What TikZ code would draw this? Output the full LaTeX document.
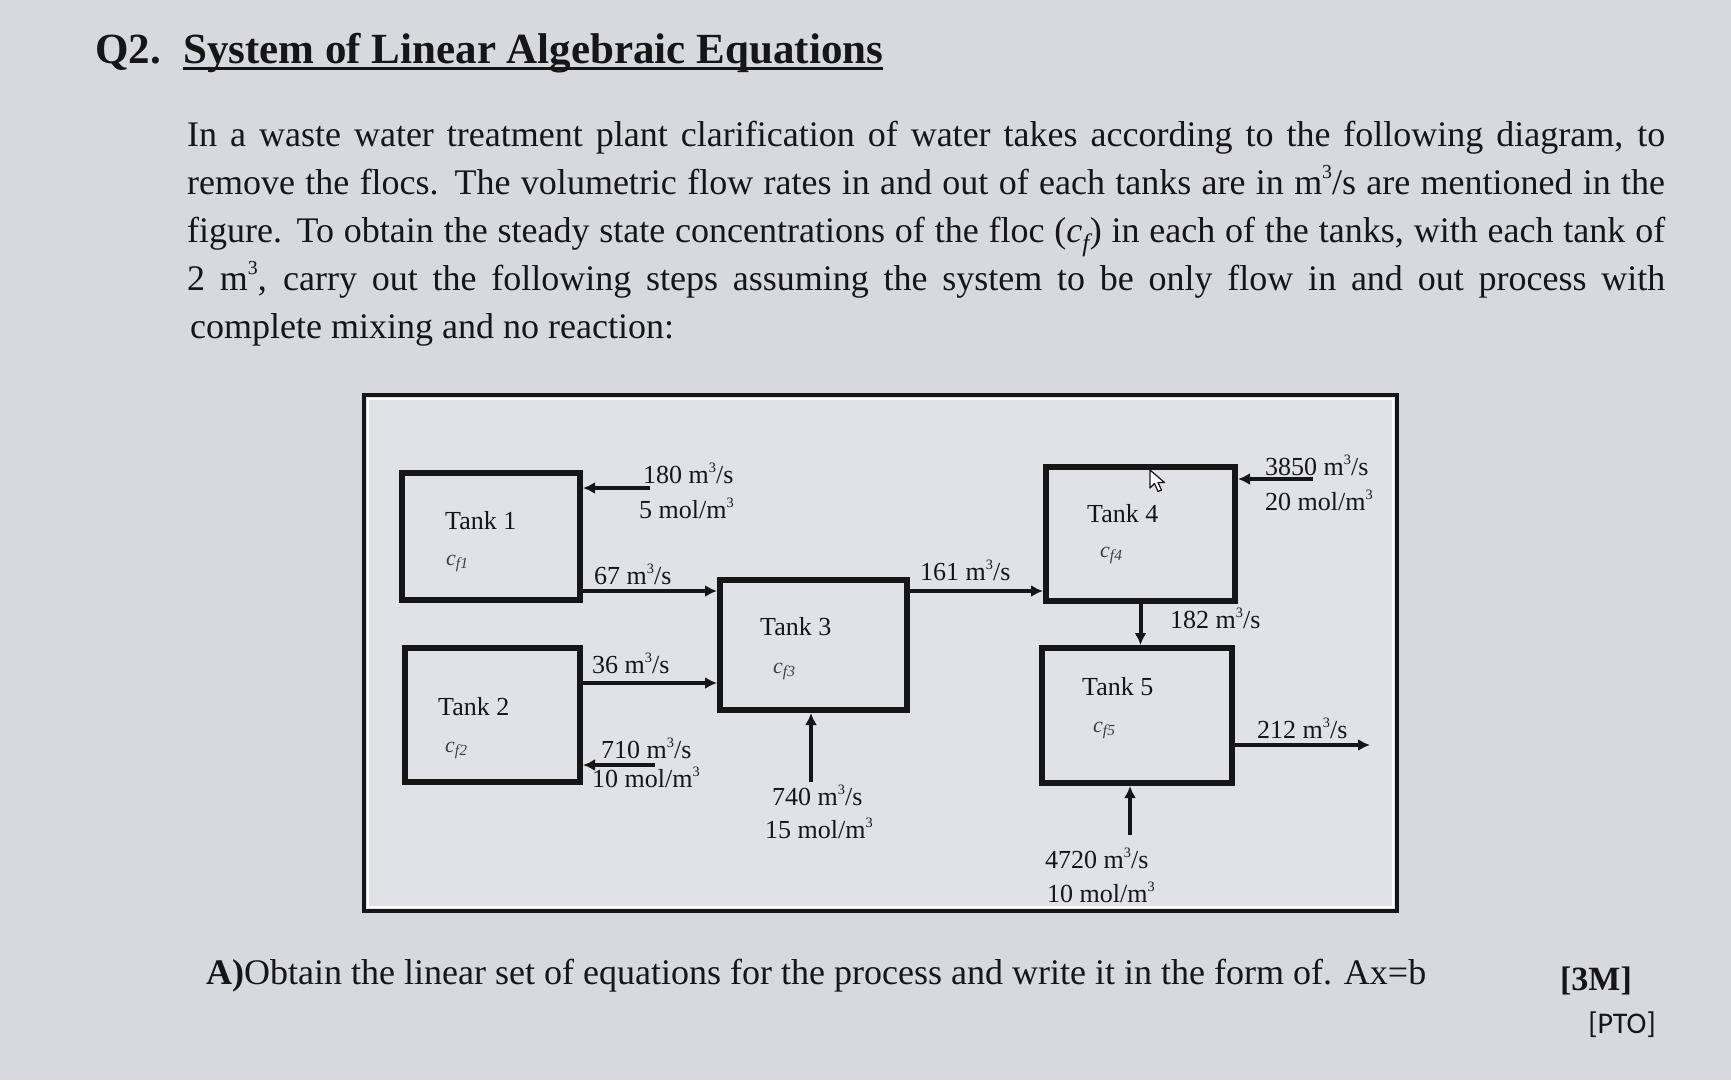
\documentclass[tikz,border=0pt]{standalone}
\usepackage{fontspec}
\setmainfont{Liberation Serif}
\newfontfamily\ptofont{Carlito}
\usepackage{graphicx}
\usetikzlibrary{arrows.meta}
\definecolor{pagebg}{RGB}{216,217,221}
\definecolor{diagbg}{RGB}{225,226,230}
\definecolor{ink}{RGB}{22,22,24}
\definecolor{subink}{RGB}{62,62,66}
\newcommand{\cubesup}{\raisebox{0.42em}{\scalebox{0.55}{3}}}
\newcommand{\mcs}{m\cubesup/s}
\newcommand{\mcm}{mol/m\cubesup}
\begin{document}
\begin{tikzpicture}[x=1pt,y=-1pt,
  tank/.style={draw=ink, line width=6pt, fill=diagbg, inner sep=0pt, rectangle},
  flow/.style={draw=ink, line width=4pt, -{Latex[length=12pt,width=12pt]}},
  lbl/.style={anchor=base west, inner sep=0pt, text=ink, font=\fontsize{26}{30}\selectfont},
  clbl/.style={anchor=base west, inner sep=0pt, text=subink, font=\fontsize{22}{26}\selectfont\itshape},
  para/.style={anchor=base west, inner sep=0pt, text=ink, font=\fontsize{36}{48}\selectfont},
  ttl/.style={anchor=base west, inner sep=0pt, text=ink, font=\fontsize{43}{50}\selectfont\bfseries},
]
\useasboundingbox (0,0) rectangle (1731,1080);
\fill[pagebg] (0,0) rectangle (1731,1080);

% title
\node[ttl] (q) at (95,63) {Q2.};
\node[ttl] (title) at (183,63) {System of Linear Algebraic Equations};
\draw[ink, line width=3pt] ([yshift=-5pt]title.base west) -- ([yshift=-5pt]title.base east);

% paragraph
\node[para] (p1) at (187,146) {\makebox[1478pt][s]{In a waste water treatment plant clarification of water takes according to the following diagram, to}};
\node[para] (p2) at (187,194) {\makebox[1478pt][s]{remove the flocs. The volumetric flow rates in and out of each tanks are in \mcs{} are mentioned in the}};
\node[para] (p3) at (187,242) {\makebox[1478pt][s]{figure. To obtain the steady state concentrations of the floc (\textit{c\textsubscript{f}}) in each of the tanks, with each tank of}};
\node[para] (p4) at (187,290) {\makebox[1478pt][s]{2 m\cubesup, carry out the following steps assuming the system to be only flow in and out process with}};
\node[para] (p5) at (190,338) {complete mixing and no reaction:};

% diagram frame
\draw[ink, line width=3.5pt, fill=diagbg] (364,395) rectangle (1397,911);
\draw[white, line width=1.2pt] (368,399) rectangle (1393,907);

% tanks
\node[tank, minimum width=178pt, minimum height=127pt] (t1) at (491,536.5) {};
\node[tank, minimum width=175pt, minimum height=134pt] (t2) at (492.5,715) {};
\node[tank, minimum width=187pt, minimum height=130pt] (t3) at (813.5,645) {};
\node[tank, minimum width=189pt, minimum height=134pt] (t4) at (1140.5,534) {};
\node[tank, minimum width=190pt, minimum height=135pt] (t5) at (1137,715.5) {};

% tank texts
\node[lbl] (n1) at (445,529) {Tank 1};
\node[clbl] (c1) at (446,565) {c\textsubscript{f1}};
\node[lbl] (n2) at (438,715) {Tank 2};
\node[clbl] (c2) at (445,752) {c\textsubscript{f2}};
\node[lbl] (n3) at (760,635) {Tank 3};
\node[clbl] (c3) at (773,673) {c\textsubscript{f3}};
\node[lbl] (n4) at (1087,522) {Tank 4};
\node[clbl] (c4) at (1100,557) {c\textsubscript{f4}};
\node[lbl] (n5) at (1082,695) {Tank 5};
\node[clbl] (c5) at (1093,732) {c\textsubscript{f5}};

% free ends / reference heights
\coordinate (in1) at (650,488);
\coordinate (h67) at (0,591);
\coordinate (h36) at (0,683);
\coordinate (in2) at (655,765);
\coordinate (in3) at (811,782);
\coordinate (in4) at (1313,479);
\coordinate (h212) at (0,745);
\coordinate (out5) at (1370,745);
\coordinate (in5) at (1130,835);

% connectors
\draw[flow] (in1) -- (in1 -| t1.east);
\draw[flow] (t1.east |- h67) -- (t3.west |- h67);
\draw[flow] (t2.east |- h36) -- (t3.west |- h36);
\draw[flow] (in2) -- (in2 -| t2.east);
\draw[flow] (in3) -- (in3 |- t3.south);
\draw[flow] (t3.east |- h67) -- (t4.west |- h67);
\draw[flow] (in4) -- (in4 -| t4.east);
\draw[flow] (t4.south) -- (t4.south |- t5.north);
\draw[flow] (t5.east |- h212) -- (out5);
\draw[flow] (in5) -- (in5 |- t5.south);

% flow labels
\node[lbl] (l180) at (643,483) {180 \mcs};
\node[lbl] (l180c) at (639,518) {5 \mcm};
\node[lbl] (l67) at (594,584) {67 \mcs};
\node[lbl] (l36) at (592,673) {36 \mcs};
\node[lbl] (l710) at (601,758) {710 \mcs};
\node[lbl] (l710c) at (592,787) {10 \mcm};
\node[lbl] (l740) at (772,805) {740 \mcs};
\node[lbl] (l740c) at (765,838) {15 \mcm};
\node[lbl] (l161) at (920,580) {161 \mcs};
\node[lbl] (l3850) at (1265,475) {3850 \mcs};
\node[lbl] (l3850c) at (1265,510) {20 \mcm};
\node[lbl] (l182) at (1170,628) {182 \mcs};
\node[lbl] (l212) at (1257,738) {212 \mcs};
\node[lbl] (l4720) at (1045,868) {4720 \mcs};
\node[lbl] (l4720c) at (1047,902) {10 \mcm};

% cursor
\draw[ink, line width=1.2pt, fill=white, line join=round] (1150,470) -- ++(0,18) -- ++(4.5,-4.5) -- ++(3.5,8) -- ++(3.5,-1.5) -- ++(-3.5,-7.5) -- ++(6.5,0) -- cycle;

% bottom
\node[para] (qa) at (206,984) {\textbf{A)}Obtain the linear set of equations for the process and write it in the form of. Ax=b};
\node[anchor=base, inner sep=0pt, text=ink, font=\fontsize{34}{40}\selectfont\bfseries] (mk) at (1596,990) {[3M]};
\node[anchor=base, inner sep=0pt, text=ink, font=\ptofont\fontsize{30}{34}\selectfont] (pto) at (1622,1033) {[PTO]};
\end{tikzpicture}
\end{document}
